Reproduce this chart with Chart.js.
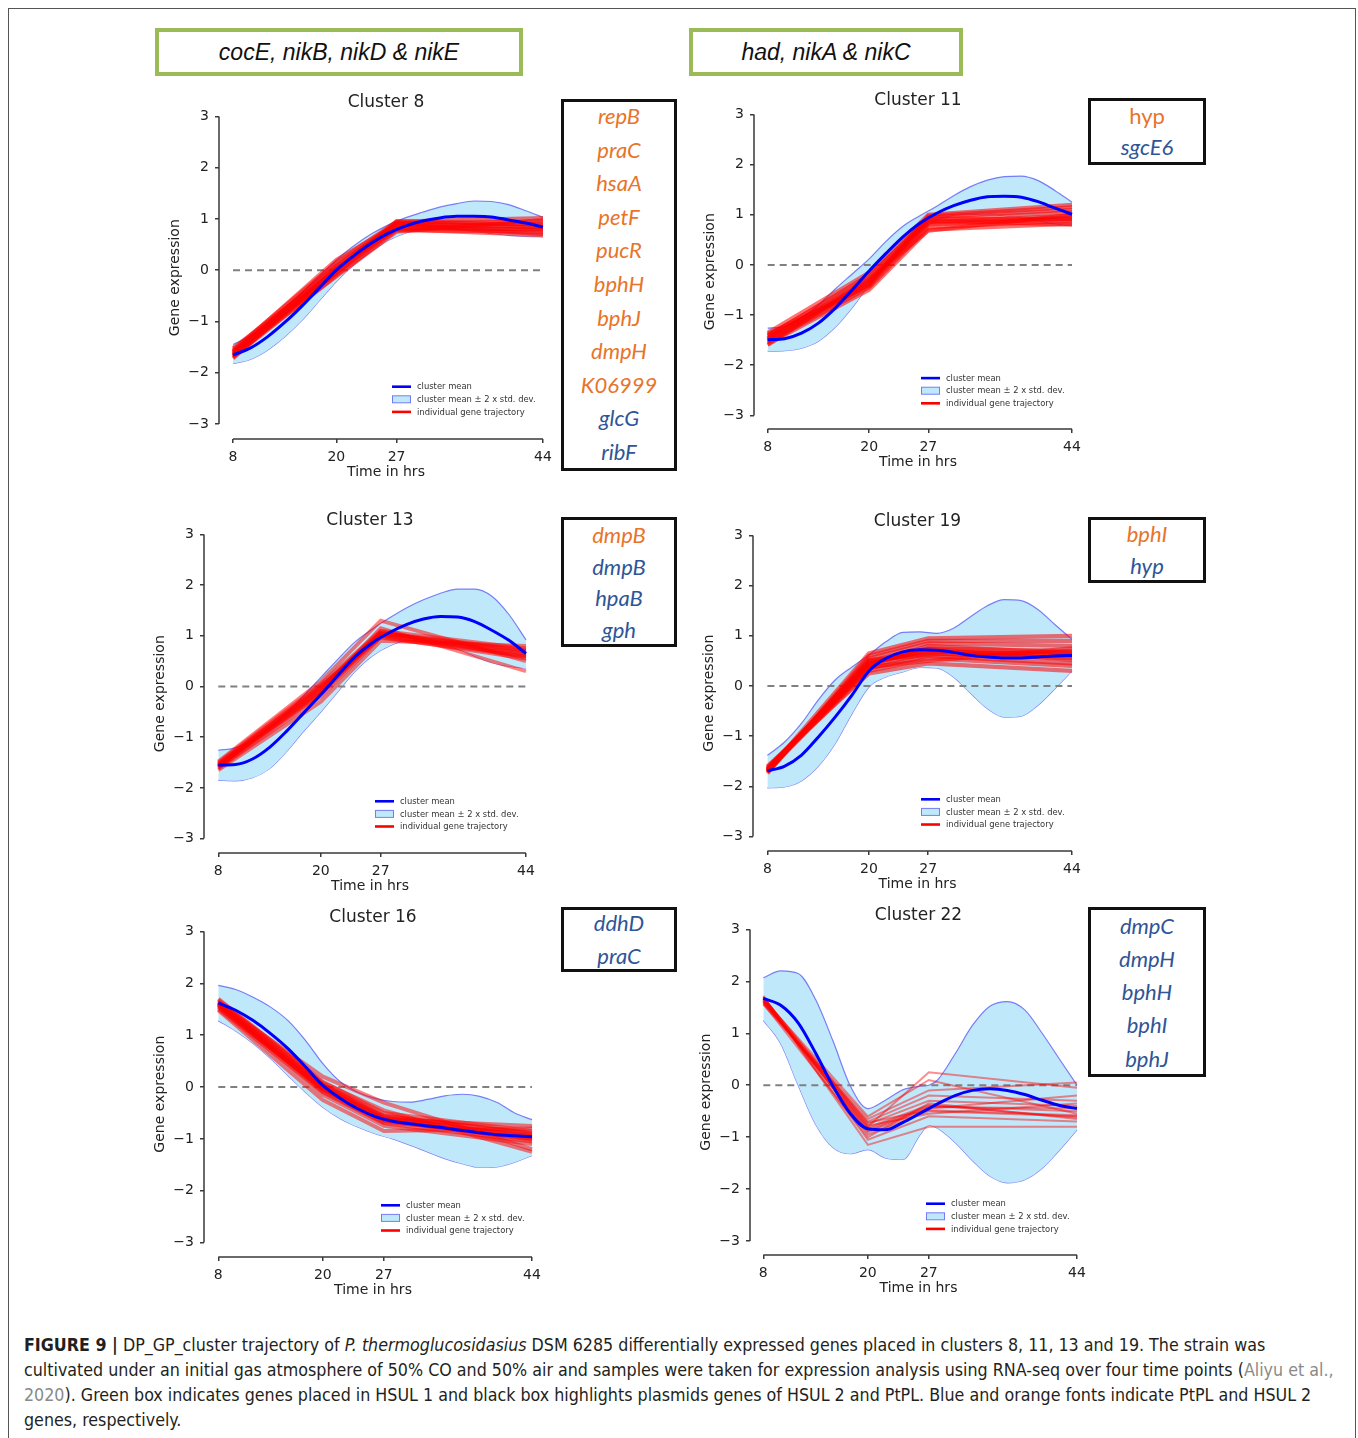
<!DOCTYPE html>
<html><head><meta charset="utf-8">
<script src="https://cdn.jsdelivr.net/npm/chart.js@4.4.1/dist/chart.umd.min.js"></script>
<style>
html,body{margin:0;padding:0;background:#fff;}
body{width:1358px;height:1438px;position:relative;overflow:hidden;font-family:'DejaVu Sans',sans-serif;}
#frame{position:absolute;left:8px;top:8px;width:1348px;height:1450px;border:1px solid #555;box-sizing:border-box;}
canvas{position:absolute;}
.gbox{position:absolute;border:4px solid #9BBB59;box-sizing:border-box;font-family:'Liberation Sans',Arial,sans-serif;font-style:italic;font-size:23px;color:#111;display:flex;align-items:center;justify-content:center;white-space:nowrap;}
.kbox{position:absolute;border:3px solid #111;box-sizing:border-box;font-family:Lato,'Open Sans',sans-serif;font-size:22px;}
.kbox div{position:absolute;left:0;right:0;text-align:center;line-height:1;transform:translateY(-50%);white-space:nowrap;}
.o{color:#E8742A}.b{color:#2F5597}.it{font-style:italic}
#caption{position:absolute;left:24px;top:1333px;font-family:'DejaVu Sans Condensed','DejaVu Sans',sans-serif;font-stretch:condensed;font-size:17.7px;line-height:25px;color:#231F20;white-space:nowrap;}
#caption .ref{color:#8a8a8a}
</style>
</head><body>
<div id="frame"></div>
<div id="root"></div>
<div id="caption"></div>
<script>
// ---------------- DATA ----------------
const TIME = [8,10,12,14,16,18,20,22,24,26,28,30,32,34,36,38,40,42,44];
const TIME_C22 = [8,10,12,14,16,18,20,22,24,26,27,28,30,32,34,36,38,40,42,44];
const SAMPLE_TIMES = [8,20,27,44];
const X_TICKS = [8,20,27,44];
const Y_TICKS = [-3,-2,-1,0,1,2,3];
const ZERO_LINE = [0,0];
const LEGEND_LABELS = ['cluster mean','cluster mean \u00b1 2 x std. dev.','individual gene trajectory'];

// Cluster 8
const C8_MEAN  = [-1.65,-1.52,-1.30,-1.02,-0.70,-0.35,0.00,0.28,0.52,0.72,0.86,0.96,1.02,1.05,1.05,1.04,0.98,0.92,0.84];
const C8_UPPER = [-1.45,-1.28,-1.05,-0.76,-0.44,-0.12,0.20,0.47,0.70,0.88,1.02,1.13,1.23,1.30,1.35,1.34,1.28,1.16,1.03];
const C8_LOWER = [-1.82,-1.74,-1.56,-1.30,-0.98,-0.60,-0.22,0.10,0.36,0.58,0.72,0.80,0.80,0.79,0.76,0.72,0.68,0.66,0.65];
const C8_GENES = [
  [-1.55,0.15,0.95,1.02],[-1.60,0.08,0.92,0.95],[-1.62,0.02,0.88,0.90],[-1.65,-0.02,0.85,0.85],
  [-1.68,-0.05,0.82,0.80],[-1.70,-0.10,0.78,0.75],[-1.58,0.20,0.90,0.70],[-1.66,-0.12,0.75,0.98],
  [-1.72,0.05,0.80,0.68],[-1.52,0.00,0.96,0.88],[-1.63,0.10,0.86,0.78],[-1.59,-0.06,0.93,0.83]];

// Cluster 11
const C11_MEAN  = [-1.49,-1.47,-1.36,-1.16,-0.86,-0.50,-0.12,0.23,0.56,0.83,1.03,1.18,1.29,1.36,1.37,1.35,1.26,1.13,1.01];
const C11_UPPER = [-1.26,-1.23,-1.06,-0.80,-0.48,-0.18,0.12,0.47,0.77,0.98,1.17,1.38,1.56,1.69,1.76,1.77,1.68,1.48,1.25];
const C11_LOWER = [-1.72,-1.71,-1.66,-1.52,-1.24,-0.85,-0.40,-0.02,0.33,0.66,0.90,0.99,1.01,1.01,0.98,0.94,0.88,0.82,0.78];
const C11_GENES = [
  [-1.35,-0.15,1.00,1.20],[-1.40,-0.25,0.95,1.10],[-1.45,-0.30,0.90,1.05],[-1.48,-0.35,0.85,0.98],
  [-1.52,-0.40,0.80,0.92],[-1.55,-0.45,0.75,0.88],[-1.58,-0.50,0.70,0.82],[-1.42,-0.20,0.88,0.80],
  [-1.50,-0.38,0.98,1.15],[-1.60,-0.28,0.68,1.00],[-1.46,-0.33,0.83,0.95],[-1.38,-0.42,0.93,0.90]];

// Cluster 13
const C13_MEAN  = [-1.55,-1.54,-1.43,-1.20,-0.88,-0.52,-0.16,0.22,0.59,0.86,1.06,1.22,1.33,1.38,1.37,1.28,1.11,0.91,0.65];
const C13_UPPER = [-1.26,-1.21,-1.06,-0.83,-0.53,-0.18,0.18,0.54,0.88,1.13,1.35,1.55,1.71,1.84,1.92,1.92,1.78,1.42,0.92];
const C13_LOWER = [-1.85,-1.86,-1.80,-1.62,-1.28,-0.88,-0.50,-0.10,0.30,0.60,0.80,0.90,0.90,0.85,0.74,0.60,0.47,0.40,0.36];
const C13_GENES = [
  [-1.50,0.05,1.10,0.75],[-1.55,-0.05,1.05,0.70],[-1.58,-0.10,1.02,0.65],[-1.60,-0.15,1.00,0.62],
  [-1.53,0.00,1.08,0.58],[-1.62,-0.20,0.98,0.55],[-1.48,0.10,1.30,0.50],[-1.65,-0.30,0.90,0.80],
  [-1.57,-0.08,1.15,0.30],[-1.52,-0.02,1.04,0.68],[-1.56,-0.12,1.06,0.72],[-1.59,0.02,0.96,0.60]];

// Cluster 19
const C19_MEAN  = [-1.69,-1.60,-1.38,-1.02,-0.62,-0.18,0.30,0.55,0.68,0.72,0.71,0.67,0.61,0.58,0.56,0.56,0.58,0.60,0.61];
const C19_UPPER = [-1.38,-1.12,-0.75,-0.28,0.12,0.38,0.62,0.88,1.07,1.08,1.05,1.15,1.38,1.60,1.72,1.70,1.52,1.22,0.93];
const C19_LOWER = [-2.03,-2.01,-1.89,-1.60,-1.15,-0.55,-0.02,0.18,0.28,0.37,0.36,0.18,-0.14,-0.45,-0.62,-0.60,-0.38,-0.05,0.30];
const C19_GENES = [
  [-1.65,0.45,0.70,0.60],[-1.68,0.40,0.65,0.55],[-1.70,0.50,0.75,0.70],[-1.62,0.35,0.60,0.45],
  [-1.72,0.55,0.85,0.80],[-1.66,0.30,0.55,0.40],[-1.74,0.60,0.90,0.90],[-1.60,0.25,0.45,0.30],
  [-1.69,0.65,0.95,1.00],[-1.64,0.42,0.80,0.65],[-1.71,0.38,0.50,0.75],[-1.67,0.48,0.68,0.62],
  [-1.66,0.44,0.74,0.52],[-1.70,0.52,0.62,0.68]];

// Cluster 16
const C16_MEAN  = [1.62,1.48,1.28,1.03,0.74,0.39,0.03,-0.22,-0.42,-0.57,-0.66,-0.71,-0.75,-0.79,-0.84,-0.88,-0.92,-0.94,-0.96];
const C16_UPPER = [1.96,1.88,1.73,1.54,1.28,0.90,0.45,0.10,-0.10,-0.22,-0.28,-0.29,-0.24,-0.17,-0.14,-0.18,-0.30,-0.50,-0.63];
const C16_LOWER = [1.28,1.08,0.84,0.55,0.22,-0.10,-0.39,-0.61,-0.77,-0.90,-1.00,-1.12,-1.25,-1.38,-1.48,-1.55,-1.54,-1.45,-1.32];
const C16_GENES = [
  [1.60,0.00,-0.60,-0.95],[1.55,-0.05,-0.65,-1.00],[1.65,0.05,-0.55,-0.90],[1.50,-0.10,-0.70,-1.05],
  [1.70,0.10,-0.50,-0.85],[1.58,-0.15,-0.75,-1.10],[1.62,0.20,-0.30,-1.20],[1.48,-0.25,-0.85,-0.80],
  [1.68,0.08,-0.45,-1.25],[1.53,-0.02,-0.62,-0.75],[1.59,0.03,-0.58,-0.98],[1.63,-0.08,-0.68,-0.92],
  [1.57,-0.04,-0.63,-1.02],[1.61,0.02,-0.57,-0.88]];

// Cluster 22 (sampled on TIME_C22)
const C22_MEAN  = [1.67,1.54,1.20,0.62,-0.02,-0.55,-0.84,-0.86,-0.72,-0.54,-0.45,-0.36,-0.20,-0.10,-0.07,-0.10,-0.18,-0.29,-0.39,-0.45];
const C22_UPPER = [2.07,2.20,2.15,1.65,0.85,-0.02,-0.45,-0.29,-0.09,-0.02,0.00,0.10,0.60,1.15,1.52,1.61,1.45,1.00,0.50,0.00];
const C22_LOWER = [1.25,0.80,0.00,-0.75,-1.20,-1.32,-1.24,-1.40,-1.43,-0.95,-0.77,-0.83,-1.10,-1.45,-1.75,-1.88,-1.82,-1.60,-1.25,-0.86];
const C22_GENES = [
  [1.65,-0.85,-0.40,-0.50],[1.60,-0.75,-0.30,-0.40],[1.70,-0.95,-0.50,-0.60],[1.55,-0.70,-0.20,-0.30],
  [1.68,-1.05,-0.60,-0.70],[1.62,-0.80,0.25,-0.05],[1.58,-0.65,-0.10,0.05],[1.72,-1.15,-0.80,-0.80],
  [1.64,-0.90,-0.45,-0.20],[1.66,-0.60,0.10,-0.55],[1.57,-1.00,-0.35,-0.65],[1.69,-0.78,-0.55,-0.35],
  [1.61,-0.88,-0.42,-0.45],[1.67,-0.72,-0.48,-0.58],[1.63,-0.82,-0.38,-0.62]];

// Gene lists (o = HSUL 2 / orange, b = PtPL / blue)
const LIST_C8  = ['repB','praC','hsaA','petF','pucR','bphH','bphJ','dmpH','K06999','glcG','ribF'];
const COL_C8   = ['o','o','o','o','o','o','o','o','o','b','b'];
const LIST_C11 = ['hyp','sgcE6'];           const COL_C11 = ['o','b'];
const LIST_C13 = ['dmpB','dmpB','hpaB','gph']; const COL_C13 = ['o','b','b','b'];
const LIST_C19 = ['bphI','hyp'];            const COL_C19 = ['o','b'];
const LIST_C16 = ['ddhD','praC'];           const COL_C16 = ['b','b'];
const LIST_C22 = ['dmpC','dmpH','bphH','bphI','bphJ']; const COL_C22 = ['b','b','b','b','b'];
const HSUL1_LEFT  = 'cocE, nikB, nikD &amp; nikE';
const HSUL1_RIGHT = 'had, nikA &amp; nikC';

// ---------------- LAYOUT ----------------
const PANELS = [
  {title:'Cluster 8',  time:TIME, mean:C8_MEAN,  upper:C8_UPPER,  lower:C8_LOWER,  genes:C8_GENES,
   g:{ys:219.3,x8:233.3,x44:543.3,y3:116.7,ym3:424.3,xs:439.3}, rw:4, ra:0.55},
  {title:'Cluster 11', time:TIME, mean:C11_MEAN, upper:C11_UPPER, lower:C11_LOWER, genes:C11_GENES,
   g:{ys:754,x8:767.7,x44:1072.3,y3:114.3,ym3:415.7,xs:429.3}, rw:4, ra:0.55},
  {title:'Cluster 13', time:TIME, mean:C13_MEAN, upper:C13_UPPER, lower:C13_LOWER, genes:C13_GENES,
   g:{ys:204,x8:218.3,x44:525.7,y3:534.3,ym3:838.3,xs:852.7}, rw:3.8, ra:0.5},
  {title:'Cluster 19', time:TIME, mean:C19_MEAN, upper:C19_UPPER, lower:C19_LOWER, genes:C19_GENES,
   g:{ys:753.3,x8:767.7,x44:1072.3,y3:535.7,ym3:837.3,xs:851.7}, rw:4.2, ra:0.55},
  {title:'Cluster 16', time:TIME, mean:C16_MEAN, upper:C16_UPPER, lower:C16_LOWER, genes:C16_GENES,
   g:{ys:204,x8:218.3,x44:532.3,y3:931,ym3:1242.3,xs:1256.7}, rw:4, ra:0.5},
  {title:'Cluster 22', time:TIME_C22, mean:C22_MEAN, upper:C22_UPPER, lower:C22_LOWER, genes:C22_GENES,
   g:{ys:750,x8:763.3,x44:1076.7,y3:929.3,ym3:1241,xs:1255}, rw:2, ra:0.45}
];
const BOXES = [
  {list:LIST_C8, col:COL_C8, l:561,t:99,w:116,h:372,s:19,d:33.6},
  {list:LIST_C11,col:COL_C11,l:1088,t:98,w:118,h:67,s:19.5,d:31.5,upright:[0]},
  {list:LIST_C13,col:COL_C13,l:561,t:517,w:116,h:130,s:20,d:31.7},
  {list:LIST_C19,col:COL_C19,l:1088,t:517,w:118,h:66,s:18.5,d:32},
  {list:LIST_C16,col:COL_C16,l:561,t:907,w:116,h:65,s:17.5,d:33},
  {list:LIST_C22,col:COL_C22,l:1088,t:907,w:118,h:170,s:20.5,d:33.3}
];

const root = document.getElementById('root');
function addDiv(cls, css, html){const d=document.createElement('div');d.className=cls;Object.assign(d.style,css);d.innerHTML=html;root.appendChild(d);return d;}
addDiv('gbox',{left:'155px',top:'28px',width:'368px',height:'48px'},HSUL1_LEFT);
addDiv('gbox',{left:'689px',top:'28px',width:'274px',height:'48px'},HSUL1_RIGHT);
BOXES.forEach(b=>{
  const box = addDiv('kbox',{left:b.l+'px',top:b.t+'px',width:b.w+'px',height:b.h+'px'},'');
  b.list.forEach((name,i)=>{
    const d=document.createElement('div');
    d.className=b.col[i]+((b.upright&&b.upright.includes(i))?'':' it');
    d.style.top=(b.s+i*b.d-5)+'px';
    d.textContent=name; box.appendChild(d);
  });
});
document.getElementById('caption').innerHTML =
 '<b>FIGURE 9 |</b> DP_GP_cluster trajectory of <i>P. thermoglucosidasius</i> DSM 6285 differentially expressed genes placed in clusters 8, 11, 13 and 19. The strain was<br>'+
 'cultivated under an initial gas atmosphere of 50% CO and 50% air and samples were taken for expression analysis using RNA-seq over four time points (<span class="ref">Aliyu et al.,</span><br>'+
 '<span class="ref">2020</span>). Green box indicates genes placed in HSUL 1 and black box highlights plasmids genes of HSUL 2 and PtPL. Blue and orange fonts indicate PtPL and HSUL 2<br>'+
 'genes, respectively.';

// ---------------- CHARTS ----------------
Chart.defaults.font.family = "'DejaVu Sans', sans-serif";
const AXW = 70, AXH = 45, PADR = 12, TITLE_PAD = {top:6,bottom:4};
const TITLE_H = 17*1.2 + TITLE_PAD.top + TITLE_PAD.bottom;
const MEAN_COLOR = '#0000ff', BAND_FILL = '#bfe9fb', BAND_EDGE = 'rgba(95,95,245,0.8)', GREY = '#808080';

const spinePlugin = {
  id:'spines',
  afterDatasetsDraw(chart){
    const {ctx, chartArea, scales:{x,y}} = chart;
    ctx.save(); ctx.strokeStyle='#3a3a3a'; ctx.lineWidth=1.5; ctx.beginPath();
    ctx.moveTo(chartArea.left, y.getPixelForValue(Y_TICKS[Y_TICKS.length-1]));
    ctx.lineTo(chartArea.left, y.getPixelForValue(Y_TICKS[0]));
    ctx.moveTo(x.getPixelForValue(X_TICKS[0]), chartArea.bottom);
    ctx.lineTo(x.getPixelForValue(X_TICKS[X_TICKS.length-1]), chartArea.bottom);
    ctx.stroke(); ctx.restore();
  }
};
const legendPlugin = {
  id:'clusterLegend',
  afterDatasetsDraw(chart){
    const {ctx, scales:{x,y}} = chart;
    const x0 = x.getPixelForValue(X_TICKS[X_TICKS.length-1]) - 151;
    const y0 = y.getPixelForValue(Y_TICKS[0]) - 37.3;
    const dy = 12.6, len = 19;
    ctx.save();
    ctx.font = "8.4px 'DejaVu Sans'"; ctx.textBaseline='middle';
    ctx.lineWidth = 2.6; ctx.strokeStyle = MEAN_COLOR;
    ctx.beginPath(); ctx.moveTo(x0,y0); ctx.lineTo(x0+len,y0); ctx.stroke();
    ctx.fillStyle = BAND_FILL; ctx.fillRect(x0, y0+dy-3.5, len, 7);
    ctx.strokeStyle = BAND_EDGE; ctx.lineWidth=1; ctx.strokeRect(x0+0.5, y0+dy-3.5, len-1, 7);
    ctx.strokeStyle = '#ff0000'; ctx.lineWidth = 2.6;
    ctx.beginPath(); ctx.moveTo(x0,y0+2*dy); ctx.lineTo(x0+len,y0+2*dy); ctx.stroke();
    ctx.fillStyle='#333';
    LEGEND_LABELS.forEach((t,i)=>ctx.fillText(t, x0+len+6, y0+i*dy+0.5));
    ctx.restore();
  }
};

function pts(xs, ys){ return xs.map((t,i)=>({x:t,y:ys[i]})); }

PANELS.forEach(p=>{
  const g = p.g;
  const pph = (g.x44-g.x8)/36, ppu = (g.ym3-g.y3)/6;
  const xmin = 8 - (g.x8-g.ys)/pph, xmax = 44 + 10/pph;
  const ymin = -3 - (g.xs-g.ym3)/ppu;
  const left = Math.round(g.ys - AXW), top = Math.round(g.y3 - TITLE_H);
  const width = Math.round(AXW + (g.x44 + 10 - g.ys) + PADR);
  const height = Math.round(TITLE_H + (g.xs - g.y3) + AXH);
  const cv = document.createElement('canvas');
  cv.width = width; cv.height = height;
  cv.style.left = left+'px'; cv.style.top = top+'px';
  cv.style.width = width+'px'; cv.style.height = height+'px';
  root.appendChild(cv);

  const datasets = [];
  datasets.push({data:pts(p.time,p.mean), borderColor:MEAN_COLOR, borderWidth:3, pointRadius:0, cubicInterpolationMode:'monotone', fill:false, order:0});
  p.genes.forEach(v=>datasets.push({data:pts(SAMPLE_TIMES,v), borderColor:`rgba(255,0,0,${p.ra})`, borderWidth:p.rw, pointRadius:0, tension:0, fill:false, order:1}));
  datasets.push({data:pts([X_TICKS[0],X_TICKS[X_TICKS.length-1]],ZERO_LINE), borderColor:GREY, borderWidth:2, borderDash:[7,5], pointRadius:0, fill:false, order:2});
  datasets.push({data:pts(p.time,p.upper), borderColor:BAND_EDGE, borderWidth:1.2, pointRadius:0, cubicInterpolationMode:'monotone', fill:'+1', backgroundColor:BAND_FILL, order:3});
  datasets.push({data:pts(p.time,p.lower), borderColor:BAND_EDGE, borderWidth:1.2, pointRadius:0, cubicInterpolationMode:'monotone', fill:false, order:3});

  const tickFont = {size:14};
  new Chart(cv, {
    type:'line',
    data:{datasets},
    options:{
      responsive:false, animation:false, devicePixelRatio:1,
      layout:{padding:{left:0,right:PADR,top:0,bottom:0}},
      plugins:{
        legend:{display:false}, tooltip:{enabled:false},
        title:{display:true, text:p.title, fullSize:false, color:'#222', font:{size:17, weight:'normal'}, padding:TITLE_PAD}
      },
      scales:{
        x:{type:'linear', min:xmin, max:xmax,
           afterBuildTicks:s=>{s.ticks = X_TICKS.map(v=>({value:v}));},
           afterFit:s=>{s.height = AXH;},
           ticks:{autoSkip:false, maxRotation:0, color:'#222', font:tickFont, padding:6},
           grid:{drawOnChartArea:false, drawTicks:true, tickLength:4, color:'#3a3a3a', lineWidth:1.5},
           border:{display:false},
           title:{display:true, text:'Time in hrs', color:'#222', font:{size:14}, padding:{top:0,bottom:3}}},
        y:{type:'linear', min:ymin, max:3,
           afterBuildTicks:s=>{s.ticks = Y_TICKS.map(v=>({value:v}));},
           afterFit:s=>{s.width = AXW;},
           ticks:{color:'#222', font:tickFont, padding:6, callback:v=> v<0 ? '\u2212'+Math.abs(v) : String(v)},
           grid:{drawOnChartArea:false, drawTicks:true, tickLength:4, color:'#3a3a3a', lineWidth:1.5},
           border:{display:false},
           title:{display:true, text:'Gene expression', color:'#222', font:{size:14}, padding:{top:17.5,bottom:0}}}
      }
    },
    plugins:[spinePlugin, legendPlugin]
  });
});
</script>
</body></html>
